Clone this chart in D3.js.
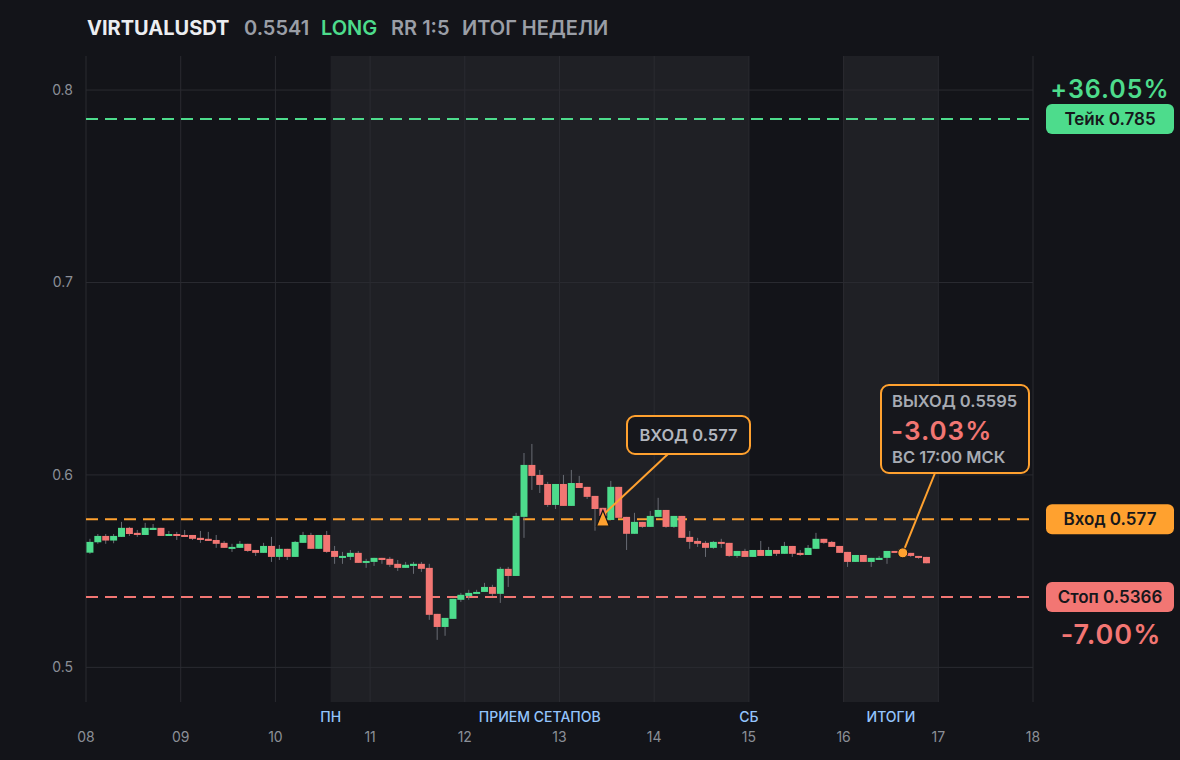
<!DOCTYPE html>
<html>
<head>
<meta charset="utf-8">
<script src="https://cdn.jsdelivr.net/npm/d3@7"></script>
<style>
  html, body { margin: 0; background: #131419; }
  svg { display: block; font-family: Inter, "Noto Sans", sans-serif; }
</style>
</head>
<body>
<div id="chart"></div>
<script>
// 2h candles, first one opens at 08 00:00 UTC
const firstCandle = "2025-11-08T00:00:00Z";
const open = [.5596,.5650,.5683,.5659,.5678,.5725,.5699,.5688,.5714,.5725,.5683,.5693,.5688,.5688,.5673,.5668,.5662,.5647,.5616,.5621,
  .5642,.5610,.5595,.5631,.5574,.5616,.5574,.5647,.5688,.5616,.5688,.5605,.5569,.5574,.5595,.5543,.5548,.5569,.5564,.5538,
  .5517,.5527,.5538,.5517,.5278,.5210,.5252,.5351,.5371,.5382,.5392,.5418,.5382,.5512,.5475,.5782,.6052,.6000,.5953,.5844,
  .5953,.5839,.5958,.5938,.5891,.5829,.5766,.5938,.5782,.5694,.5756,.5730,.5782,.5818,.5730,.5787,.5678,.5657,.5647,.5621,
  .5652,.5647,.5579,.5605,.5574,.5610,.5579,.5610,.5590,.5631,.5595,.5584,.5616,.5668,.5652,.5631,.5600,.5548,.5584,.5548,
  .5558,.5569,.5605,.5600,.5595,.5579,.5574];
const high = [.5668,.5693,.5693,.5693,.5756,.5730,.5714,.5751,.5745,.5725,.5709,.5704,.5714,.5688,.5709,.5704,.5688,.5657,.5642,.5657,
  .5642,.5610,.5647,.5678,.5636,.5616,.5657,.5704,.5699,.5688,.5709,.5631,.5600,.5610,.5605,.5564,.5569,.5569,.5574,.5558,
  .5548,.5548,.5548,.5538,.5278,.5257,.5356,.5387,.5403,.5403,.5439,.5429,.5522,.5522,.5803,.6114,.6161,.6026,.5964,.5953,
  .6000,.6026,.5995,.5938,.5891,.5829,.5969,.5938,.5782,.5803,.5756,.5813,.5881,.5818,.5787,.5787,.5709,.5673,.5657,.5657,
  .5668,.5647,.5605,.5616,.5610,.5657,.5626,.5610,.5652,.5631,.5610,.5636,.5699,.5668,.5657,.5631,.5600,.5584,.5584,.5569,
  .5579,.5605,.5605,.5600,.5595,.5579,.5574];
const low = [.5590,.5642,.5642,.5645,.5678,.5683,.5678,.5688,.5714,.5683,.5683,.5662,.5678,.5662,.5647,.5657,.5621,.5621,.5600,.5621,
  .5600,.5579,.5595,.5548,.5558,.5558,.5574,.5647,.5616,.5616,.5595,.5538,.5538,.5558,.5543,.5517,.5527,.5538,.5522,.5501,
  .5517,.5486,.5496,.5247,.5143,.5164,.5252,.5340,.5351,.5382,.5392,.5371,.5335,.5418,.5475,.5673,.5922,.5906,.5834,.5823,
  .5839,.5839,.5932,.5875,.5710,.5740,.5766,.5777,.5610,.5694,.5725,.5730,.5782,.5725,.5725,.5673,.5616,.5626,.5574,.5616,
  .5621,.5574,.5569,.5574,.5574,.5579,.5579,.5579,.5590,.5574,.5579,.5584,.5616,.5642,.5626,.5595,.5522,.5548,.5548,.5522,
  .5558,.5538,.5600,.5595,.5574,.5564,.5541];
const close = [.5652,.5683,.5659,.5683,.5725,.5693,.5688,.5725,.5725,.5683,.5693,.5683,.5678,.5668,.5662,.5657,.5642,.5621,.5626,.5642,
  .5605,.5595,.5631,.5574,.5616,.5574,.5652,.5688,.5616,.5688,.5600,.5574,.5579,.5595,.5543,.5553,.5569,.5558,.5533,.5517,
  .5533,.5538,.5512,.5273,.5210,.5257,.5356,.5377,.5387,.5392,.5418,.5382,.5512,.5475,.5787,.6052,.5995,.5948,.5844,.5953,
  .5839,.5958,.5932,.5886,.5823,.5787,.5938,.5777,.5694,.5756,.5730,.5787,.5818,.5730,.5787,.5673,.5652,.5642,.5621,.5652,
  .5642,.5579,.5605,.5574,.5610,.5579,.5610,.5590,.5631,.5590,.5584,.5621,.5668,.5647,.5626,.5595,.5548,.5584,.5548,.5569,
  .5569,.5605,.5600,.5595,.5579,.5569,.5541];

const levelNames = ["Тейк", "Вход", "Стоп"];
const levelValues = [0.785, 0.577, 0.5366];

const bandStarts = ["2025-11-10T14:00:00Z", "2025-11-16T00:00:00Z"];
const bandEnds = ["2025-11-15T00:00:00Z", "2025-11-17T00:00:00Z"];
const bandLabels = ["ПН", "ПРИЕМ СЕТАПОВ", "СБ", "ИТОГИ"];
const bandLabelTimes = ["2025-11-10T14:00:00Z", "2025-11-12T19:00:00Z", "2025-11-15T00:00:00Z", "2025-11-16T12:00:00Z"];

const yTicks = [0.5, 0.6, 0.7, 0.8];

const entryTime = "2025-11-13T11:00:00Z", entryPrice = 0.577;
const exitTime = "2025-11-16T15:00:00Z", exitPrice = 0.5595;
const exitWhen = "ВС 17:00 МСК";
const lastPrice = 0.5541;

const green = "#4ddc8c", red = "#f27673", orange = "#ffa12f";
const levelColors = [green, orange, red];

const W = 1180, H = 760;
const plot = {left: 86, right: 1033, top: 56, bottom: 702};

const t0 = new Date(firstCandle);
const times = open.map((d, i) => d3.utcHour.offset(t0, i * 2));

const x = d3.scaleUtc()
  .domain([new Date("2025-11-08T00:00:00Z"), new Date("2025-11-18T00:00:00Z")])
  .range([plot.left, plot.right]);
const y = d3.scaleLinear()
  .domain([0.482, 0.8177])
  .range([plot.bottom, plot.top]);

const svg = d3.select("#chart").append("svg")
  .attr("width", W).attr("height", H);

svg.append("rect").attr("width", W).attr("height", H).attr("fill", "#131419");

// shaded session bands
svg.selectAll(".band")
  .data(bandStarts)
  .join("rect")
    .attr("x", (d) => x(new Date(d)))
    .attr("y", plot.top)
    .attr("width", (d, i) => x(new Date(bandEnds[i])) - x(new Date(d)))
    .attr("height", plot.bottom - plot.top)
    .attr("fill", "#1f2025");

// grid
const days = x.ticks(d3.utcDay.every(1));
svg.selectAll(".vgrid")
  .data(days)
  .join("line")
    .attr("x1", (d) => x(d)).attr("x2", (d) => x(d))
    .attr("y1", plot.top).attr("y2", plot.bottom)
    .attr("stroke", "#2a2b31").attr("stroke-width", 1);
svg.selectAll(".hgrid")
  .data(yTicks)
  .join("line")
    .attr("x1", plot.left).attr("x2", plot.right)
    .attr("y1", (d) => y(d)).attr("y2", (d) => y(d))
    .attr("stroke", "#2a2b31").attr("stroke-width", 1);

// axes labels
svg.selectAll(".ylab")
  .data(yTicks)
  .join("text")
    .attr("x", 73).attr("y", (d) => y(d))
    .attr("dy", "0.35em")
    .attr("text-anchor", "end")
    .attr("fill", "#8b8f97")
    .style("font-size", "14px")
    .text((d) => d3.format(".1f")(d));

svg.selectAll(".xlab")
  .data(days)
  .join("text")
    .attr("x", (d) => x(d)).attr("y", 742)
    .attr("text-anchor", "middle")
    .attr("fill", "#8b8f97")
    .style("font-size", "14px")
    .text(d3.utcFormat("%d"));

svg.selectAll(".bandlab")
  .data(bandLabels)
  .join("text")
    .attr("x", (d, i) => x(new Date(bandLabelTimes[i]))).attr("y", 722)
    .attr("text-anchor", "middle")
    .attr("fill", "#93c5fd")
    .style("font-size", "14px")
    .style("font-weight", "500")
    .text((d) => d);

// level lines
svg.selectAll(".level")
  .data(levelValues)
  .join("line")
    .attr("x1", plot.left).attr("x2", plot.right)
    .attr("y1", (d) => y(d)).attr("y2", (d) => y(d))
    .attr("stroke", (d, i) => levelColors[i])
    .attr("stroke-width", 2)
    .attr("stroke-dasharray", "12 7");

// candles
const step = x(d3.utcHour.offset(t0, 2)) - x(t0);
const bw = 7;
const candles = svg.append("g");
candles.selectAll(".wick")
  .data(times)
  .join("line")
    .attr("x1", (d) => x(d) + step / 2).attr("x2", (d) => x(d) + step / 2)
    .attr("y1", (d, i) => y(high[i])).attr("y2", (d, i) => y(low[i]))
    .attr("stroke", "#686b73").attr("stroke-width", 1);
candles.selectAll(".body")
  .data(times)
  .join("rect")
    .attr("x", (d) => x(d) + step / 2 - bw / 2)
    .attr("width", bw)
    .attr("y", (d, i) => y(Math.max(open[i], close[i])))
    .attr("height", (d, i) => Math.max(2, Math.abs(y(open[i]) - y(close[i]))))
    .attr("fill", (d, i) => close[i] >= open[i] ? green : red);

// entry callout
const ex = x(new Date(entryTime)), ey = y(entryPrice);
svg.append("line")
  .attr("x1", 668).attr("y1", 454).attr("x2", ex + 2).attr("y2", ey - 6)
  .attr("stroke", orange).attr("stroke-width", 2);
svg.append("rect")
  .attr("x", 627).attr("y", 416).attr("width", 123).attr("height", 38).attr("rx", 8)
  .attr("fill", "#16171c").attr("stroke", orange).attr("stroke-width", 2);
svg.append("text")
  .attr("x", 688.5).attr("y", 441)
  .attr("text-anchor", "middle")
  .attr("fill", "#b3b7bf")
  .style("font-size", "16.5px").style("font-weight", "600")
  .text("ВХОД " + entryPrice);
svg.append("path")
  .attr("d", `M${ex},${ey - 9}L${ex + 6.5},${ey + 7}L${ex - 6.5},${ey + 7}Z`)
  .attr("fill", orange).attr("stroke", "#131419").attr("stroke-width", 1.2);

// exit callout
const xx = x(new Date(exitTime)), xy = y(exitPrice);
svg.append("line")
  .attr("x1", 935).attr("y1", 473).attr("x2", xx).attr("y2", xy)
  .attr("stroke", orange).attr("stroke-width", 2);
svg.append("rect")
  .attr("x", 881).attr("y", 385).attr("width", 148).attr("height", 88).attr("rx", 8)
  .attr("fill", "#16171c").attr("stroke", orange).attr("stroke-width", 2);
svg.append("circle")
  .attr("cx", xx).attr("cy", xy).attr("r", 5)
  .attr("fill", orange).attr("stroke", "#131419").attr("stroke-width", 1);
const exitPct = (exitPrice / entryPrice - 1) * 100;
svg.append("text")
  .attr("x", 892).attr("y", 407)
  .attr("fill", "#a7abb3")
  .style("font-size", "16.5px").style("font-weight", "600")
  .text("ВЫХОД " + exitPrice);
svg.append("text")
  .attr("x", 891).attr("y", 440)
  .attr("fill", exitPct >= 0 ? green : red)
  .style("font-size", "26px").style("font-weight", "600").style("letter-spacing", "1px")
  .text(d3.format("+.2f")(exitPct).replace("−", "-") + "%");
svg.append("text")
  .attr("x", 892).attr("y", 463)
  .attr("fill", "#a7abb3")
  .style("font-size", "16.5px").style("font-weight", "600")
  .text(exitWhen);

// right side badges
const badges = svg.selectAll(".badge")
  .data(levelValues)
  .join("g")
    .attr("transform", (d) => `translate(1046,${y(d)})`);
badges.append("rect")
  .attr("x", 0).attr("y", -15).attr("width", 128).attr("height", 30).attr("rx", 6)
  .attr("fill", (d, i) => levelColors[i]);
badges.append("text")
  .attr("x", 64).attr("dy", "0.36em")
  .attr("text-anchor", "middle")
  .attr("fill", "#16171b")
  .style("font-size", "17px").style("font-weight", "600")
  .text((d, i) => levelNames[i] + " " + d);

const takePct = (levelValues[0] / entryPrice - 1) * 100;
const stopPct = (levelValues[2] / entryPrice - 1) * 100;
svg.append("text")
  .attr("x", 1110).attr("y", 98)
  .attr("text-anchor", "middle")
  .attr("fill", green)
  .style("font-size", "25px").style("font-weight", "600").style("letter-spacing", "1px")
  .text(d3.format("+.2f")(takePct) + "%");
svg.append("text")
  .attr("x", 1111).attr("y", 644)
  .attr("text-anchor", "middle")
  .attr("fill", red)
  .style("font-size", "27px").style("font-weight", "600").style("letter-spacing", "1px")
  .text(d3.format(".2f")(stopPct).replace("−", "-") + "%");

// title
const titleParts = ["VIRTUALUSDT", lastPrice, "LONG", "RR 1:5", "ИТОГ НЕДЕЛИ"];
const titleX = [87, 244, 321, 391, 462];
const titleFill = ["#eceef1", "#9a9ea6", green, "#9a9ea6", "#9a9ea6"];
svg.selectAll(".title")
  .data(titleParts)
  .join("text")
    .attr("x", (d, i) => titleX[i]).attr("y", 35)
    .attr("fill", (d, i) => titleFill[i])
    .style("font-size", "20px")
    .style("font-weight", (d, i) => i === 0 ? "700" : "600")
    .text((d) => d);
</script>
</body>
</html>
